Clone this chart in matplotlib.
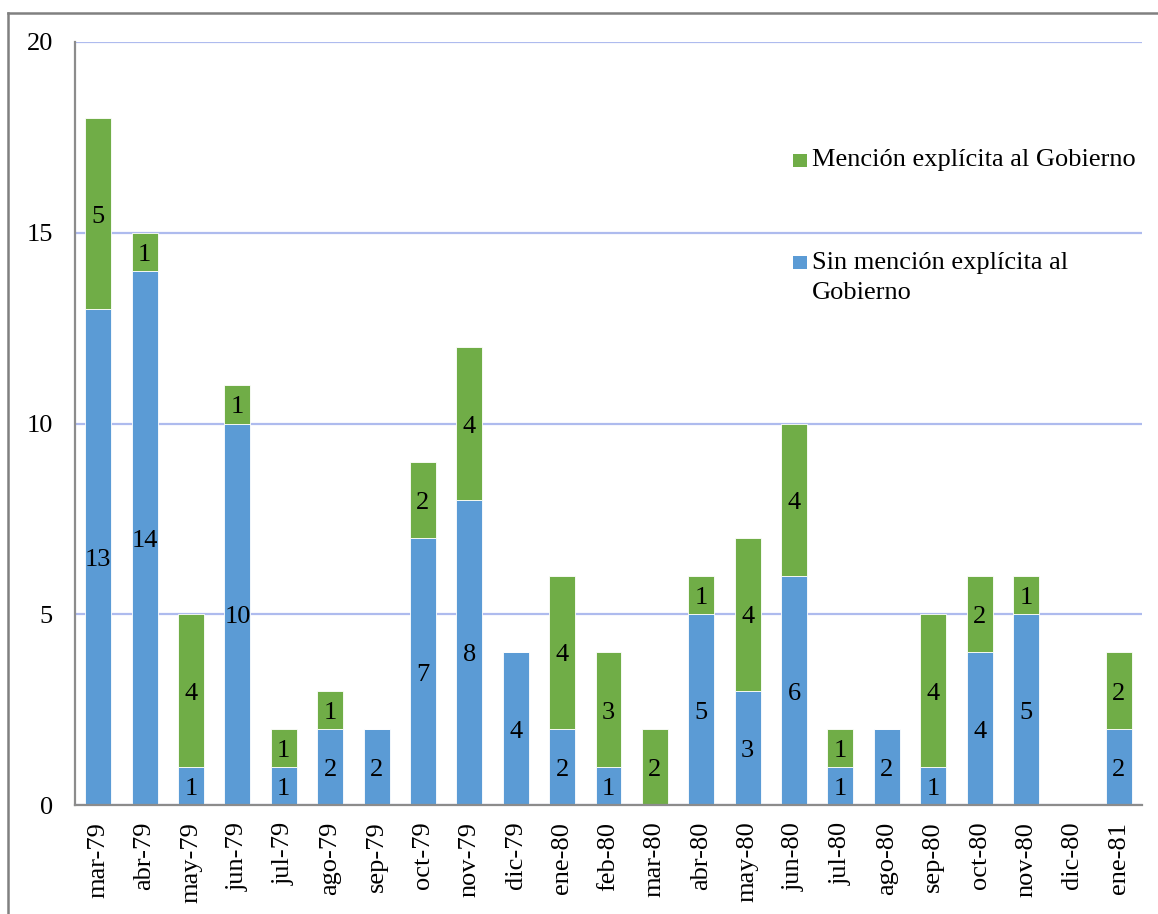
import matplotlib
matplotlib.use("Agg")
import matplotlib.pyplot as plt
from matplotlib.patches import Rectangle
from matplotlib.lines import Line2D
import numpy as np

months = ["mar-79", "abr-79", "may-79", "jun-79", "jul-79", "ago-79", "sep-79",
          "oct-79", "nov-79", "dic-79", "ene-80", "feb-80", "mar-80", "abr-80",
          "may-80", "jun-80", "jul-80", "ago-80", "sep-80", "oct-80", "nov-80",
          "dic-80", "ene-81"]
sin_mencion = [13, 14, 1, 10, 1, 2, 2, 7, 8, 4, 2, 1, 0, 5, 3, 6, 1, 2, 1, 4, 5, 0, 2]
con_mencion = [5, 1, 4, 1, 1, 1, 0, 2, 4, 0, 4, 3, 2, 1, 4, 4, 1, 0, 4, 2, 1, 0, 2]
label_con = "Mención explícita al Gobierno"
label_sin = "Sin mención explícita al\nGobierno"

BLUE = "#5B9BD5"
GREEN = "#70AD47"
GRID = "#aebbee"
SPINE = "#8c8c8c"
FS = 19

plt.rcParams["font.family"] = ["Liberation Serif", "DejaVu Serif"]

W, H = 1158, 914
fig = plt.figure(figsize=(W / 100, H / 100), dpi=100)
ax = fig.add_axes([75 / W, 1 - 805 / H, (1142 - 75) / W, (805 - 42) / H])

x = np.arange(len(months))
sin = np.array(sin_mencion)
con = np.array(con_mencion)
bw = 0.56
ax.bar(x, sin, width=bw, color=BLUE, edgecolor="white", linewidth=0.6, zorder=3)
ax.bar(x, con, width=bw, bottom=sin, color=GREEN, edgecolor="white", linewidth=0.6, zorder=3)

for xi, s, c in zip(x, sin, con):
    if s > 0:
        ax.text(xi, s / 2 - 0.08, str(s), ha="center", va="center", fontsize=FS, zorder=4)
    if c > 0:
        ax.text(xi, s + c / 2 - 0.08, str(c), ha="center", va="center", fontsize=FS, zorder=4)

ax.set_xlim(-0.5, len(months) - 0.5)
ax.set_ylim(0, 20)
ax.set_yticks([0, 5, 10, 15, 20])
ax.set_xticks(x)
ax.set_xticklabels(months, rotation=90, fontsize=FS)
ax.tick_params(axis="y", length=0, pad=16, labelsize=FS)
ax.tick_params(axis="x", length=0, pad=12)
ax.yaxis.grid(True, color=GRID, linewidth=1.6, zorder=0)
ax.set_axisbelow(True)
for side in ("top", "right"):
    ax.spines[side].set_visible(False)
for side in ("left", "bottom"):
    ax.spines[side].set_color(SPINE)
    ax.spines[side].set_linewidth(1.6)
ax.spines["left"].set_zorder(5)
ax.spines["bottom"].set_zorder(5)

# Legend drawn as swatches and text on the figure
def fx(px):
    return px / W

def fy(py):
    return 1 - py / H

fig.patches.append(Rectangle((fx(793), fy(167)), 14 / W, 13 / H, transform=fig.transFigure,
                             facecolor=GREEN, edgecolor="none"))
fig.text(fx(812), fy(160), label_con, fontsize=FS, va="center", ha="left")
fig.patches.append(Rectangle((fx(793), fy(269)), 14 / W, 13 / H, transform=fig.transFigure,
                             facecolor=BLUE, edgecolor="none"))
fig.text(fx(812), fy(278), label_sin, fontsize=FS, va="center", ha="left", linespacing=1.5)

# Outer frame
fig.add_artist(Line2D([fx(8), fx(8)], [fy(13), 0], transform=fig.transFigure,
                      color="#808080", linewidth=1.8))
fig.add_artist(Line2D([fx(8), 1], [fy(13), fy(13)], transform=fig.transFigure,
                      color="#808080", linewidth=1.8))

fig.savefig("out.png", dpi=100, facecolor="white")
